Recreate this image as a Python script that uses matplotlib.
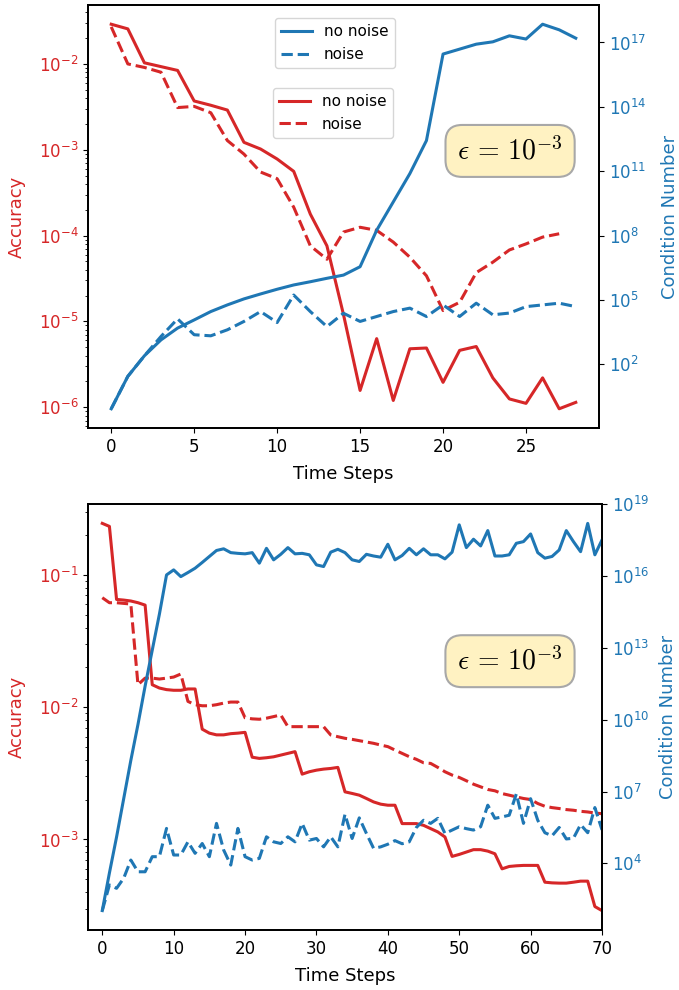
import matplotlib
matplotlib.use("Agg")
import matplotlib.pyplot as plt
import numpy as np

plt.rcParams['mathtext.fontset'] = 'cm'

# ---- top panel (short run) ----
steps_top = np.arange(29)
steps_top_noise = np.arange(28)

acc_top_clean = [0.029, 0.0256, 0.0103, 0.0093, 0.0084, 0.0037, 0.0033, 0.0029, 0.00122,
                 0.00102, 0.00078, 0.00056, 0.000178, 7.6e-5, 1.2e-5, 1.57e-6, 6.3e-6, 1.2e-6,
                 4.8e-6, 4.9e-6, 1.95e-6, 4.6e-6, 5.1e-6, 2.2e-6, 1.25e-6, 1.11e-6, 2.2e-6,
                 9.6e-7, 1.14e-6]
acc_top_noise = [0.027, 0.010, 0.0091, 0.0080, 0.0031, 0.0032, 0.0027, 0.00128, 0.00089,
                 0.00055, 0.00046, 0.000214, 7.6e-5, 5.3e-5, 1.1e-4, 1.25e-4, 1.15e-4, 8.4e-5,
                 5.6e-5, 3.4e-5, 1.34e-5, 1.67e-5, 3.7e-5, 4.9e-5, 6.8e-5, 8.0e-5, 9.6e-5, 1.05e-4]
# condition numbers as log10 exponents
cond_top_clean_exp = [-0.07, 1.44, 2.40, 3.14, 3.69, 4.07, 4.46, 4.77, 5.05, 5.28, 5.50, 5.70,
                      5.85, 6.01, 6.16, 6.55, 8.25, 9.57, 10.89, 12.43, 16.46, 16.69, 16.92,
                      17.03, 17.31, 17.16, 17.85, 17.59, 17.2]
cond_top_noise_exp = [-0.07, 1.44, 2.4, 3.3, 4.12, 3.38, 3.33, 3.61, 4.0, 4.46, 3.95, 5.23,
                      4.46, 3.76, 4.38, 4.0, 4.23, 4.46, 4.62, 4.23, 4.77, 4.23, 4.85, 4.31,
                      4.39, 4.69, 4.77, 4.85, 4.69]

# ---- bottom panel (long run) ----
steps_bot = np.arange(71)
acc_bot_clean_exp = [-0.61, -0.633, -1.185, -1.19, -1.197, -1.21, -1.228, -1.83, -1.855, -1.867,
                     -1.872, -1.872, -1.862, -1.862, -2.166, -2.196, -2.209, -2.209, -2.20, -2.196,
                     -2.19, -2.378, -2.387, -2.382, -2.375, -2.362, -2.349, -2.336, -2.506, -2.488,
                     -2.476, -2.468, -2.463, -2.455, -2.64, -2.652, -2.665, -2.69, -2.716, -2.733,
                     -2.741, -2.741, -2.88, -2.88, -2.88, -2.893, -2.918, -2.943, -2.981, -3.128,
                     -3.113, -3.095, -3.077, -3.077, -3.088, -3.108, -3.222, -3.204, -3.199, -3.196,
                     -3.196, -3.196, -3.323, -3.328, -3.33, -3.33, -3.323, -3.315, -3.315, -3.507,
                     -3.538]
acc_bot_noise_exp = [-1.172, -1.21, -1.21, -1.215, -1.22, -1.83, -1.78, -1.78, -1.787, -1.78,
                     -1.772, -1.749, -1.956, -1.981, -1.989, -1.989, -1.981, -1.969, -1.961, -1.961,
                     -2.08, -2.088, -2.091, -2.083, -2.071, -2.058, -2.147, -2.147, -2.147, -2.147,
                     -2.147, -2.147, -2.21, -2.223, -2.235, -2.243, -2.253, -2.263, -2.273, -2.286,
                     -2.298, -2.324, -2.349, -2.374, -2.394, -2.42, -2.425, -2.455, -2.488, -2.513,
                     -2.531, -2.556, -2.582, -2.602, -2.622, -2.632, -2.653, -2.665, -2.678, -2.69,
                     -2.698, -2.728, -2.749, -2.759, -2.766, -2.774, -2.779, -2.787, -2.792, -2.8,
                     -2.805]
cond_bot_clean_exp = [2.03, 3.6, 5.1, 6.7, 8.3, 9.8, 11.4, 12.9, 14.4, 16.04, 16.25, 15.97, 16.14,
                      16.32, 16.56, 16.81, 17.06, 17.13, 16.97, 16.94, 16.92, 16.97, 16.53, 17.15,
                      16.67, 16.9, 17.18, 16.92, 16.94, 16.88, 16.46, 16.39, 16.99, 17.11, 16.97,
                      16.67, 16.6, 16.9, 16.83, 16.78, 17.32, 16.67, 16.85, 17.15, 16.88, 17.13,
                      16.88, 16.88, 16.71, 16.99, 18.13, 17.18, 17.53, 17.25, 17.89, 16.83, 16.83,
                      16.88, 17.36, 17.43, 17.75, 16.97, 16.74, 16.81, 17.08, 17.89, 17.43, 17.01,
                      18.19, 16.88, 17.5]
cond_bot_noise_exp = [2.03, 3.10, 2.96, 3.38, 4.14, 3.65, 3.65, 4.28, 4.28, 5.46, 4.35, 4.35, 4.9,
                      4.42, 4.83, 4.28, 5.67, 4.56, 3.93, 5.46, 4.28, 4.14, 4.21, 5.11, 4.9, 4.83,
                      5.11, 4.9, 5.67, 4.97, 5.04, 4.69, 5.11, 4.69, 6.05, 5.04, 5.9, 5.25, 4.63,
                      4.69, 4.8, 4.95, 4.82, 4.9, 5.5, 5.8, 5.67, 5.88, 5.25, 5.39, 5.53, 5.45, 5.39,
                      5.53, 6.43, 5.88, 5.94, 6.01, 6.9, 5.67, 6.7, 5.8, 5.28, 5.15, 5.5, 5.02, 5.05,
                      5.62, 5.28, 6.33, 5.4]
cond_bot_tick_exp = [4, 7, 10, 13, 16, 19]

RED = 'tab:red'
BLUE = 'tab:blue'
LW = 2.2
TICK_FS = 12
LABEL_FS = 13
eps_label = r'$\epsilon\,=\,10^{-3}$'
box_style = dict(boxstyle='round,pad=0.42,rounding_size=0.6', facecolor='#fff2c2',
                 edgecolor='#a8a8a8', linewidth=1.5)


def style_axes(ax, ax2, rpad):
    ax.set_yscale('log')
    ax2.set_yscale('log')
    ax.set_ylabel('Accuracy', color=RED, fontsize=LABEL_FS, labelpad=9)
    ax2.set_ylabel('Condition Number', color=BLUE, fontsize=LABEL_FS, labelpad=rpad)
    ax.set_xlabel('Time Steps', fontsize=LABEL_FS, labelpad=7)
    ax.tick_params(axis='y', which='both', labelcolor=RED, labelsize=TICK_FS)
    ax.tick_params(axis='x', labelsize=TICK_FS)
    ax2.tick_params(axis='y', which='both', labelcolor=BLUE, labelsize=TICK_FS)
    ax2.yaxis.set_minor_locator(matplotlib.ticker.NullLocator())
    for a in (ax, ax2):
        for s in a.spines.values():
            s.set_linewidth(1.3)


fig = plt.figure(figsize=(6.79, 9.9), dpi=100)

# top
ax1 = fig.add_axes([88 / 679, 1 - 428 / 990, 511 / 679, 423 / 990])
ax1b = ax1.twinx()
r1, = ax1.plot(steps_top, acc_top_clean, color=RED, lw=LW, label='no noise')
r2, = ax1.plot(steps_top_noise, acc_top_noise, color=RED, lw=LW, ls='--', label='noise')
b1, = ax1b.plot(steps_top, 10.0 ** np.array(cond_top_clean_exp), color=BLUE, lw=LW, label='no noise')
b2, = ax1b.plot(steps_top, 10.0 ** np.array(cond_top_noise_exp), color=BLUE, lw=LW, ls='--', label='noise')
style_axes(ax1, ax1b, 11)
ax1.set_xticks([0, 5, 10, 15, 20, 25])
leg_b = ax1b.legend(handles=[b1, b2], loc='upper left', bbox_to_anchor=(0.366, 0.969),
                    borderaxespad=0, fontsize=11)
leg_r = ax1b.legend(handles=[r1, r2], loc='upper left', bbox_to_anchor=(0.362, 0.804),
                    borderaxespad=0, fontsize=11)
ax1b.add_artist(leg_b)
ax1b.text(0.826, 0.655, eps_label, transform=ax1b.transAxes, fontsize=20,
          ha='center', va='center', bbox=box_style)

# bottom
ax2 = fig.add_axes([88 / 679, 1 - 930 / 990, 514 / 679, 426 / 990])
ax2b = ax2.twinx()
ax2.plot(steps_bot, 10.0 ** np.array(acc_bot_clean_exp), color=RED, lw=LW)
ax2.plot(steps_bot, 10.0 ** np.array(acc_bot_noise_exp), color=RED, lw=LW, ls='--')
ax2b.plot(steps_bot, 10.0 ** np.array(cond_bot_clean_exp), color=BLUE, lw=LW)
ax2b.plot(steps_bot, 10.0 ** np.array(cond_bot_noise_exp), color=BLUE, lw=LW, ls='--')
style_axes(ax2, ax2b, 7)
ax2.set_xlim(-2, 70)
ax2.set_xticks([0, 10, 20, 30, 40, 50, 60, 70])
ax2b.set_yticks([10.0 ** k for k in cond_bot_tick_exp])
ax2b.yaxis.set_minor_locator(matplotlib.ticker.NullLocator())
ax2b.set_ylim(10 ** 1.22, 1e19)
ax2b.text(0.821, 0.631, eps_label, transform=ax2b.transAxes, fontsize=20,
          ha='center', va='center', bbox=box_style)

fig.savefig('out.png', dpi=100)
